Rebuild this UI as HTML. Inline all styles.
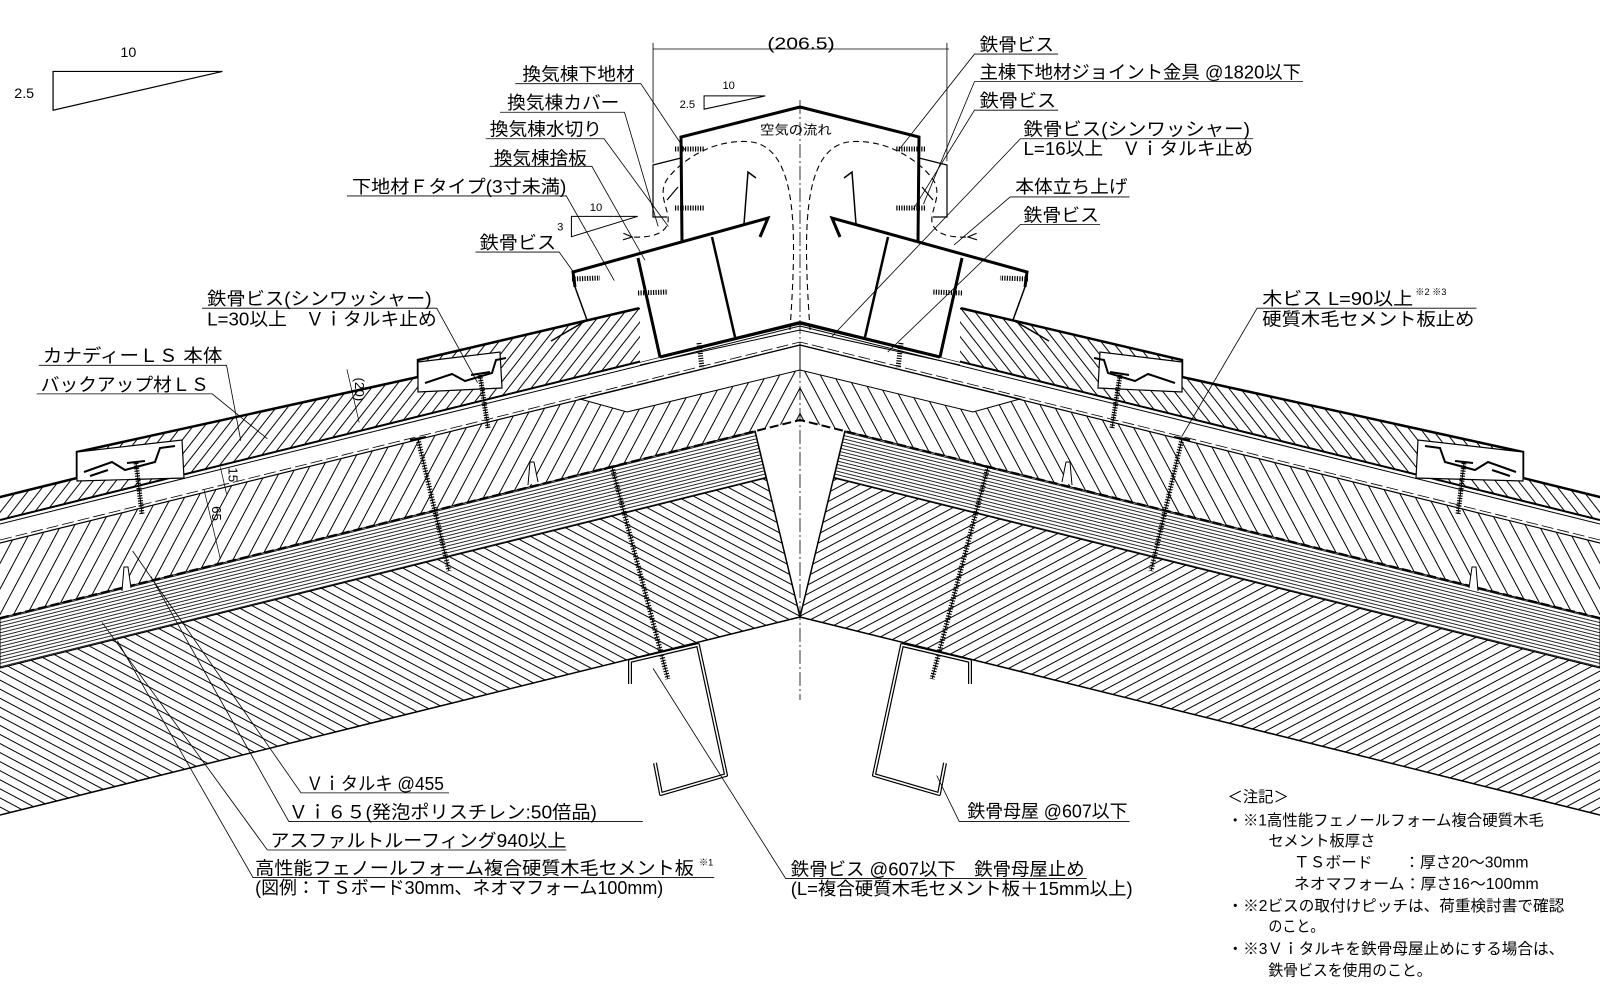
<!DOCTYPE html>
<html><head><meta charset="utf-8"><style>
html,body{margin:0;padding:0;background:#fff;}
svg{display:block;}
text{font-family:"Liberation Sans","Noto Sans CJK JP",sans-serif;fill:#000;}
</style></head><body>
<svg width="1600" height="1000" viewBox="0 0 1600 1000" xmlns="http://www.w3.org/2000/svg">
<defs>
<pattern id="hA" width="40" height="12" patternUnits="userSpaceOnUse" patternTransform="rotate(-62)"><line x1="0" y1="0.5" x2="40" y2="0.5" stroke="#000" stroke-width="1"/></pattern>
<pattern id="hC" width="40" height="9" patternUnits="userSpaceOnUse" patternTransform="rotate(-52)"><line x1="0" y1="0.5" x2="40" y2="0.5" stroke="#000" stroke-width="1"/></pattern>
<pattern id="hB" width="40" height="8" patternUnits="userSpaceOnUse" patternTransform="rotate(28)"><line x1="0" y1="0.5" x2="40" y2="0.5" stroke="#000" stroke-width="1"/></pattern>
<pattern id="hF" width="40" height="3.3" patternUnits="userSpaceOnUse" patternTransform="rotate(-13.9)"><line x1="0" y1="0.5" x2="40" y2="0.5" stroke="#000" stroke-width="0.8"/></pattern>
<marker id="ar" markerWidth="10" markerHeight="8" refX="1" refY="4" orient="auto"><path d="M9,1 L1,4 L9,7" fill="none" stroke="#000" stroke-width="1"/></marker>
</defs>

<g id="L" stroke-linecap="butt">
  <!-- board -->
  <polygon points="0,543 800,345 800,420 0,618" fill="url(#hA)"/>
  <polygon points="580,399 627,412 800,370 800,345" fill="#fff" stroke="#000" stroke-width="1"/>
  <line x1="0" y1="543" x2="800" y2="345" stroke="#000" stroke-width="1.2"/>
  <line x1="0" y1="540" x2="800" y2="342" stroke="#000" stroke-width="0.8" stroke-dasharray="12 4"/>
  <!-- foam -->
  <polygon points="0,618 755,431 766,478 0,668" fill="url(#hF)" stroke="#000" stroke-width="1"/>
  <line x1="0" y1="618" x2="800" y2="420" stroke="#000" stroke-width="2" stroke-dasharray="9 4"/>
  <!-- slab -->
  <polygon points="0,668 766,478 800,617 0,815" fill="url(#hB)"/>
  <line x1="0" y1="815" x2="800" y2="617" stroke="#000" stroke-width="1.5"/>
  <line x1="755" y1="431" x2="800" y2="617" stroke="#000" stroke-width="1.5"/>
  <line x1="0" y1="668" x2="766" y2="478" stroke="#000" stroke-width="1"/>
  <!-- white band top (L1) -->
  <line x1="0" y1="520" x2="800" y2="322" stroke="#000" stroke-width="2"/>
  <line x1="0" y1="524" x2="800" y2="326" stroke="#000" stroke-width="1"/>
  <line x1="640" y1="365" x2="800" y2="330" stroke="#000" stroke-width="1"/>
  <!-- canady roofing -->
  <polygon points="0,497 77,478 77,452 418,377 418,360 640,308 640,362 0,520" fill="url(#hC)"/>
  <polyline points="0,497 77,478 77,452 418,377 418,360 640,308" fill="none" stroke="#000" stroke-width="2.5"/>
  <!-- clips -->
  <polygon points="77,452 182,440 184,478 77,481" fill="#fff" stroke="#000" stroke-width="1.2"/>
  <path d="M84,472 L112,462 L125,470 L155,462 L160,448 L175,446" fill="none" stroke="#000" stroke-width="2"/>
  <path d="M90,476 L108,470" stroke="#000" stroke-width="2"/>
  <line x1="136" y1="463" x2="142" y2="514" stroke="#000" stroke-width="5" stroke-dasharray="1.2 1.3"/>
  <line x1="136" y1="463" x2="142" y2="514" stroke="#000" stroke-width="1"/>
  <line x1="127" y1="463" x2="145" y2="461" stroke="#000" stroke-width="2"/>
  <polygon points="418,362 500,352 502,388 418,392" fill="#fff" stroke="#000" stroke-width="1.2"/>
  <path d="M425,383 L452,374 L465,381 L492,373 L496,360 L506,358" fill="none" stroke="#000" stroke-width="2"/>
  <line x1="480" y1="375" x2="488" y2="428" stroke="#000" stroke-width="5" stroke-dasharray="1.2 1.3"/>
  <line x1="480" y1="375" x2="488" y2="428" stroke="#000" stroke-width="1"/>
  <line x1="471" y1="375" x2="490" y2="372" stroke="#000" stroke-width="2"/>
  <!-- long screws -->
  <line x1="418" y1="439" x2="449" y2="571" stroke="#000" stroke-width="5" stroke-dasharray="1.2 1.5"/>
  <line x1="418" y1="439" x2="449" y2="571" stroke="#000" stroke-width="1"/>
  <line x1="410" y1="440" x2="426" y2="437" stroke="#000" stroke-width="2"/>
  <line x1="612" y1="467" x2="668" y2="679" stroke="#000" stroke-width="5" stroke-dasharray="1.2 1.5"/>
  <line x1="612" y1="467" x2="668" y2="679" stroke="#000" stroke-width="1"/>
  <line x1="604" y1="469" x2="620" y2="465" stroke="#000" stroke-width="2"/>
  <!-- small fins -->
  <path d="M122,591 L124,567 L128,567 L131,588" fill="#fff" stroke="#000" stroke-width="1"/>
  <path d="M528,485 L530,462 L534,462 L538,482" fill="#fff" stroke="#000" stroke-width="1"/>
  <!-- purlin -->
  <polyline points="630,684 630,661 698,645 726,775 661,794 655,763" fill="none" stroke="#000" stroke-width="4" stroke-linejoin="round"/>
  <polyline points="630,684 630,661 698,645 726,775 661,794 655,763" fill="none" stroke="#fff" stroke-width="1.6" stroke-linejoin="round"/>
  <!-- ridge box -->
  <polygon points="640,308 573,272 638,258 660,357 640,362" fill="#fff"/>
  <polyline points="800,107 681,137 682,242" fill="none" stroke="#000" stroke-width="3"/>
  <polyline points="681,158 653,165 653,217 667,217" fill="none" stroke="#000" stroke-width="1.2"/>
  <line x1="678" y1="187" x2="667" y2="200" stroke="#000" stroke-width="1.2"/>
  <polyline points="575,287 573,272 768,218 760,237" fill="none" stroke="#000" stroke-width="3"/>
  <polyline points="575,287 587,320 551,341" fill="none" stroke="#000" stroke-width="1.5"/>
  <polyline points="744,224 748,172 756,178" fill="none" stroke="#000" stroke-width="1.5"/>
  <line x1="638" y1="258" x2="660" y2="357" stroke="#000" stroke-width="3"/>
  <line x1="712" y1="237" x2="735" y2="337" stroke="#000" stroke-width="2.5"/>
  <line x1="660" y1="357" x2="800" y2="323" stroke="#000" stroke-width="3"/>
  <!-- short screws -->
  <g stroke="#000">
    <line x1="675" y1="149" x2="705" y2="149" stroke-width="5" stroke-dasharray="1.2 1.3"/>
    <line x1="675" y1="208" x2="705" y2="208" stroke-width="5" stroke-dasharray="1.2 1.3"/>
    <line x1="572" y1="279" x2="600" y2="278" stroke-width="5" stroke-dasharray="1.2 1.3"/>
    <line x1="638" y1="293" x2="668" y2="292" stroke-width="5" stroke-dasharray="1.2 1.3"/>
    <line x1="699" y1="343" x2="702" y2="368" stroke-width="5" stroke-dasharray="1.2 1.3"/>
  </g>
  <!-- air flow -->
  <path d="M790,330 C796,240 800,150 752,142 C716,138 684,158 668,178 C656,194 670,210 668,222 C666,234 650,238 632,237" fill="none" stroke="#000" stroke-width="1.1" stroke-dasharray="6 4" marker-end="url(#ar)"/>
</g>
<use href="#L" transform="matrix(-1,0,0,1,1600,0)"/>
<line x1="800" y1="100" x2="800" y2="700" stroke="#000" stroke-width="0.8" stroke-dasharray="14 3 2 3"/>

<g transform="scale(1.0204)">
 <!-- slope symbols -->
 <polygon points="52,70 218,70 52,108" fill="none" stroke="#000" stroke-width="1.2"/>
 <text x="118" y="56" font-size="14">10</text>
 <text x="14" y="96" font-size="14">2.5</text>
 <polygon points="690,94 750,94 690,107" fill="none" stroke="#000" stroke-width="1"/>
 <text x="708" y="87" font-size="11">10</text>
 <text x="666" y="106" font-size="11">2.5</text>
 <polygon points="560,212 625,212 560,232" fill="none" stroke="#000" stroke-width="1"/>
 <text x="578" y="207" font-size="11">10</text>
 <text x="546" y="226" font-size="11">3</text>
 <!-- dimension -->
 <line x1="640" y1="48" x2="930" y2="48" stroke="#000" stroke-width="0.8"/>
 <line x1="640" y1="42" x2="640" y2="160" stroke="#000" stroke-width="0.8"/>
 <line x1="928" y1="42" x2="928" y2="158" stroke="#000" stroke-width="0.8"/>
 <text x="752" y="48" font-size="16" textLength="66" lengthAdjust="spacingAndGlyphs">(206.5)</text>
 <text x="745" y="132" font-size="13" textLength="70" lengthAdjust="spacingAndGlyphs">空気の流れ</text>
 <text transform="translate(348,370) rotate(90)" font-size="13">(20)</text>
 <text transform="translate(224,458) rotate(90)" font-size="13">15</text>
 <text transform="translate(208,496) rotate(90)" font-size="13">65</text>
 <line x1="340" y1="362" x2="352" y2="414" stroke="#000" stroke-width="0.7"/>
 <line x1="216" y1="458" x2="222" y2="484" stroke="#000" stroke-width="0.7"/>
 <line x1="200" y1="480" x2="216" y2="548" stroke="#000" stroke-width="0.7"/>

 <g stroke="#000" stroke-width="0.8" fill="none">
  <polyline points="505,82 628,82 672,148"/>
  <polyline points="490,110 612,110 645,222"/>
  <polyline points="476,136 592,136 655,222"/>
  <polyline points="480,163 580,163 632,255"/>
  <polyline points="340,192 555,192 602,275"/>
  <polyline points="466,247 548,247 563,268"/>
  <polyline points="198,302 428,302 468,375"/>
  <polyline points="38,358 222,358 236,432"/>
  <polyline points="36,386 208,386 262,430"/>
  <polyline points="1037,53 955,53 880,148"/>
  <polyline points="1277,80 955,80 905,200"/>
  <polyline points="1037,108 955,108 895,205"/>
  <polyline points="1228,136 1000,136 815,330"/>
  <polyline points="1107,193 990,193 935,240"/>
  <polyline points="1078,220 1000,220 870,345"/>
  <polyline points="1447,302 1232,302 1158,428"/>
  <polyline points="440,777 295,777 130,540"/>
  <polyline points="630,805 283,805 148,565"/>
  <polyline points="555,833 262,833 100,610"/>
  <polyline points="700,860 248,860 115,628"/>
  <polyline points="1065,861 770,861 640,655"/>
  <polyline points="1107,805 940,805 918,760"/>
 </g>
 <g font-size="18">
  <text x="512" y="79" textLength="110" lengthAdjust="spacingAndGlyphs">換気棟下地材</text>
  <text x="497" y="107" textLength="110" lengthAdjust="spacingAndGlyphs">換気棟カバー</text>
  <text x="480" y="133" textLength="110" lengthAdjust="spacingAndGlyphs">換気棟水切り</text>
  <text x="484" y="161" textLength="91" lengthAdjust="spacingAndGlyphs">換気棟捨板</text>
  <text x="345" y="189" textLength="210" lengthAdjust="spacingAndGlyphs">下地材Ｆタイプ(3寸未満)</text>
  <text x="470" y="244" textLength="75" lengthAdjust="spacingAndGlyphs">鉄骨ビス</text>
  <text x="203" y="299" textLength="220" lengthAdjust="spacingAndGlyphs">鉄骨ビス(シンワッシャー)</text>
  <text x="203" y="319" textLength="225" lengthAdjust="spacingAndGlyphs">L=30以上　Ｖｉタルキ止め</text>
  <text x="42" y="355" textLength="176" lengthAdjust="spacingAndGlyphs">カナディーＬＳ 本体</text>
  <text x="40" y="383" textLength="165" lengthAdjust="spacingAndGlyphs">バックアップ材ＬＳ</text>
  <text x="960" y="50" textLength="73" lengthAdjust="spacingAndGlyphs">鉄骨ビス</text>
  <text x="960" y="77" textLength="315" lengthAdjust="spacingAndGlyphs">主棟下地材ジョイント金具 @1820以下</text>
  <text x="960" y="105" textLength="75" lengthAdjust="spacingAndGlyphs">鉄骨ビス</text>
  <text x="1003" y="133" textLength="222" lengthAdjust="spacingAndGlyphs">鉄骨ビス(シンワッシャー)</text>
  <text x="1003" y="152" textLength="225" lengthAdjust="spacingAndGlyphs">L=16以上　Ｖｉタルキ止め</text>
  <text x="995" y="189" textLength="110" lengthAdjust="spacingAndGlyphs">本体立ち上げ</text>
  <text x="1003" y="217" textLength="74" lengthAdjust="spacingAndGlyphs">鉄骨ビス</text>
  <text x="1237" y="299" textLength="148" lengthAdjust="spacingAndGlyphs">木ビス L=90以上</text>
  <text x="1387" y="289" font-size="9">※2 ※3</text>
  <text x="1237" y="319" textLength="208" lengthAdjust="spacingAndGlyphs">硬質木毛セメント板止め</text>
  <text x="300" y="774" textLength="135" lengthAdjust="spacingAndGlyphs">Ｖｉタルキ @455</text>
  <text x="283" y="802" textLength="302" lengthAdjust="spacingAndGlyphs">Ｖｉ６５(発泡ポリスチレン:50倍品)</text>
  <text x="265" y="830" textLength="290" lengthAdjust="spacingAndGlyphs">アスファルトルーフィング940以上</text>
  <text x="250" y="857" textLength="430" lengthAdjust="spacingAndGlyphs">高性能フェノールフォーム複合硬質木毛セメント板</text>
  <text x="685" y="848" font-size="9">※1</text>
  <text x="250" y="876" textLength="400" lengthAdjust="spacingAndGlyphs">(図例：ＴＳボード30mm、ネオマフォーム100mm)</text>
  <text x="775" y="858" textLength="288" lengthAdjust="spacingAndGlyphs">鉄骨ビス @607以下　鉄骨母屋止め</text>
  <text x="775" y="877" textLength="335" lengthAdjust="spacingAndGlyphs">(L=複合硬質木毛セメント板＋15mm以上)</text>
  <text x="948" y="801" textLength="157" lengthAdjust="spacingAndGlyphs">鉄骨母屋 @607以下</text>
 </g>
 <g font-size="15">
  <text x="1203" y="786" textLength="60" lengthAdjust="spacingAndGlyphs">＜注記＞</text>
  <text x="1203" y="809" textLength="310" lengthAdjust="spacingAndGlyphs">・※1高性能フェノールフォーム複合硬質木毛</text>
  <text x="1243" y="829" textLength="105" lengthAdjust="spacingAndGlyphs">セメント板厚さ</text>
  <text x="1268" y="850" textLength="230" lengthAdjust="spacingAndGlyphs">ＴＳボード　　：厚さ20～30mm</text>
  <text x="1268" y="871" textLength="240" lengthAdjust="spacingAndGlyphs">ネオマフォーム：厚さ16～100mm</text>
  <text x="1203" y="893" textLength="330" lengthAdjust="spacingAndGlyphs">・※2ビスの取付けピッチは、荷重検討書で確認</text>
  <text x="1243" y="913" textLength="55" lengthAdjust="spacingAndGlyphs">のこと。</text>
  <text x="1203" y="935" textLength="330" lengthAdjust="spacingAndGlyphs">・※3Ｖｉタルキを鉄骨母屋止めにする場合は、</text>
  <text x="1243" y="956" textLength="160" lengthAdjust="spacingAndGlyphs">鉄骨ビスを使用のこと。</text>
 </g>
</g>
</svg>
</body></html>
